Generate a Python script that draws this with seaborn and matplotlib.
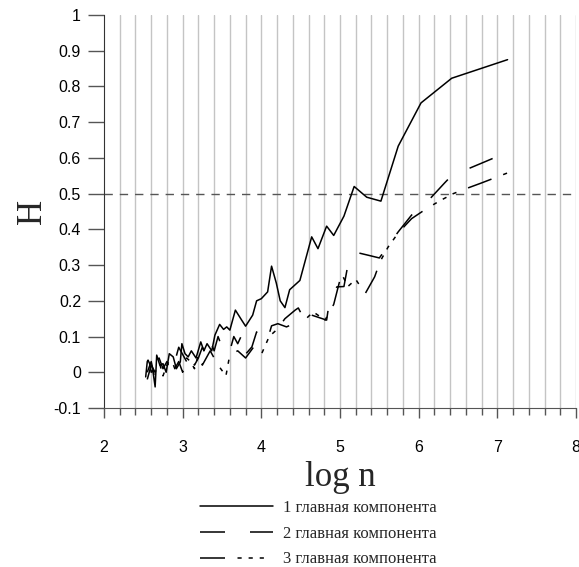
import numpy as np
import pandas as pd
import matplotlib
matplotlib.use("Agg")
import matplotlib.pyplot as plt
import seaborn as sns

# данные
x1 = [2.53, 2.55, 2.56, 2.58, 2.60, 2.62, 2.65, 2.67, 2.71, 2.75, 2.79, 2.83, 2.88, 2.92,
      2.97, 2.99, 3.03, 3.07, 3.11, 3.17, 3.23, 3.27, 3.31, 3.37, 3.41, 3.47, 3.52, 3.56,
      3.60, 3.67, 3.75, 3.80, 3.89, 3.94, 4.00, 4.08, 4.13, 4.19, 4.24, 4.30, 4.36, 4.49,
      4.64, 4.72, 4.83, 4.92, 5.05, 5.18, 5.34, 5.52, 5.74, 6.03, 6.42, 7.13]
h1 = [-0.013, 0.03, 0.034, 0.024, 0.0, 0.006, -0.041, 0.048, 0.02, 0.024, 0.0, 0.052, 0.043, 0.01,
      0.029, 0.08, 0.052, 0.043, 0.06, 0.04, 0.085, 0.06, 0.08, 0.06, 0.104, 0.134, 0.12, 0.127,
      0.118, 0.174, 0.146, 0.129, 0.16, 0.2, 0.206, 0.225, 0.297, 0.25, 0.2, 0.181, 0.231, 0.257,
      0.379, 0.346, 0.409, 0.383, 0.437, 0.52, 0.49, 0.479, 0.633, 0.754, 0.823, 0.875]

x2 = [2.55, 2.60, 2.65, 2.70, 2.75, 2.80, 2.85, 2.90, 2.95, 3.00, 3.05, 3.10, 3.15, 3.20,
      3.25, 3.30, 3.35, 3.40, 3.45, 3.50, 3.55, 3.60, 3.65, 3.70, 3.75, 3.79, 3.88, 3.94,
      4.00, 4.07, 4.13, 4.21, 4.32, 4.51, 4.64, 4.83, 4.87, 4.96, 5.05, 5.10, 5.18, 5.37,
      5.50, 5.74, 5.91, 6.12, 6.33, 6.43, 6.58, 6.84, 7.14]
h2 = [0.0, 0.03, -0.02, 0.04, 0.01, 0.03, 0.0, 0.03, 0.07, 0.05, 0.03, 0.06, 0.02, 0.04,
      0.07, 0.05, 0.09, 0.06, 0.1, 0.07, 0.08, 0.06, 0.1, 0.08, 0.104, 0.048, 0.071, 0.113,
      0.09, 0.085, 0.13, 0.136, 0.127, 0.146, 0.16, 0.146, 0.206, 0.239, 0.24, 0.30, 0.337, 0.327,
      0.32, 0.393, 0.44, 0.48, 0.53, 0.553, 0.565, 0.589, 0.617]

x3 = [2.55, 2.60, 2.65, 2.70, 2.75, 2.80, 2.85, 2.90, 2.95, 3.00, 3.05, 3.10, 3.15, 3.20,
      3.25, 3.30, 3.35, 3.45, 3.55, 3.60, 3.70, 3.80, 3.90, 4.00, 4.10, 4.20, 4.30, 4.43,
      4.47, 4.55, 4.66, 4.81, 4.92, 5.02, 5.10, 5.20, 5.32, 5.44, 5.51, 5.61, 5.74, 5.91,
      6.10, 6.27, 6.44, 6.64, 6.80, 7.13]
h3 = [-0.02, 0.02, 0.0, 0.03, -0.01, 0.02, 0.04, 0.01, 0.03, 0.0, 0.04, 0.03, 0.01, 0.05,
      0.02, 0.04, 0.06, 0.02, -0.01, 0.05, 0.06, 0.04, 0.07, 0.05, 0.1, 0.12, 0.15, 0.174,
      0.18, 0.146, 0.169, 0.146, 0.19, 0.276, 0.24, 0.26, 0.22, 0.267, 0.31, 0.35, 0.39, 0.43,
      0.458, 0.48, 0.5, 0.517, 0.53, 0.558]

labels = ["1 главная компонента", "2 главная компонента", "3 главная компонента"]

df = pd.concat([
    pd.DataFrame({"logn": x1, "H": h1, "series": labels[0]}),
    pd.DataFrame({"logn": x2, "H": h2, "series": labels[1]}),
    pd.DataFrame({"logn": x3, "H": h3, "series": labels[2]}),
])

sns.set_style("ticks")
plt.rcParams["font.family"] = ["Liberation Sans", "DejaVu Sans"]
plt.rcParams["lines.scale_dashes"] = False

fig = plt.figure(figsize=(5.79, 5.67), dpi=100)
ax = fig.add_axes([104 / 579, 1 - 408 / 567, 472 / 579, 393 / 567])

# вертикальная сетка через 0.2
for gx in np.arange(2.2, 8.01, 0.2):
    ax.axvline(gx, color="#c4c4c4", lw=1.0, zorder=0)
ax.axhline(0.5, color="#555555", lw=1.0, dashes=(6, 5), zorder=1)

dash_map = {labels[0]: "", labels[1]: (18, 18), labels[2]: (18, 9, 3, 5, 3, 5, 3, 9)}
sns.lineplot(data=df, x="logn", y="H", hue="series", style="series",
             palette=["black"] * 3, dashes=dash_map, lw=1.1, ax=ax,
             legend=False, sort=False, estimator=None)

ax.set_xlim(2, 8)
ax.set_ylim(-0.1, 1.0)
ax.set_xticks(range(2, 9))
ax.set_xticks(np.arange(2, 8.01, 0.2), minor=True)
ax.set_yticks(np.arange(-0.1, 1.01, 0.1))
ax.set_yticklabels(["-0.1", "0", "0.1", "0.2", "0.3", "0.4", "0.5", "0.6", "0.7", "0.8", "0.9", "1"])
ax.tick_params(axis="both", labelsize=11.5, colors="black", direction="out")
ax.tick_params(axis="x", which="major", length=7, width=1, color="#555555", pad=16)
ax.tick_params(axis="x", which="minor", length=5, width=1, color="#555555")
ax.tick_params(axis="y", which="major", length=11.5, width=1, color="#555555", pad=5)
sns.despine(ax=ax, top=True, right=True)
ax.spines["left"].set_color("#333333")
ax.spines["bottom"].set_color("#555555")

ax.set_xlabel("log n", fontsize=25, family="Liberation Serif", labelpad=4)
ax.set_ylabel("H", fontsize=25, family="Liberation Serif", labelpad=3)

lines = [l for l in ax.get_lines() if len(l.get_xdata()) > 2]
fig.legend(lines, labels, loc="upper center", bbox_to_anchor=(318 / 579, 1 - 485 / 567),
           frameon=False, handlelength=4.4, handletextpad=0.6, labelspacing=0.58,
           prop={"family": "Liberation Serif", "size": 12})

fig.savefig("out.png", dpi=100)
